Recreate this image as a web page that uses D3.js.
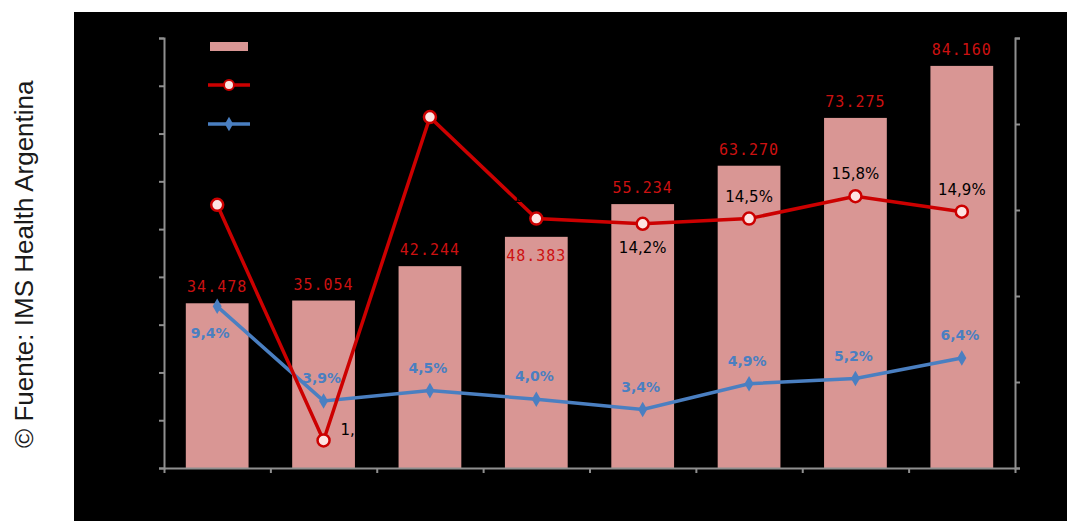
<!DOCTYPE html>
<html><head><meta charset="utf-8">
<script src="https://cdn.jsdelivr.net/npm/d3@7"></script>
<style>body{margin:0;background:#fff;overflow:hidden}</style>
</head><body>
<svg id="c" width="1067" height="521"></svg>
<script>
// ---- data ----
const categories = ["1","2","3","4","5","6","7","8"];
const barValues  = [34478, 35054, 42244, 48383, 55234, 63270, 73275, 84160];
const redValues  = [15.3, 1.6, 20.4, 14.5, 14.2, 14.5, 15.8, 14.9];
const blueValues = [9.4, 3.9, 4.5, 4.0, 3.4, 4.9, 5.2, 6.4];
const leftTicks  = [0,10000,20000,30000,40000,50000,60000,70000,80000,90000];
const rightTicks = [0,5,10,15,20,25];
const sourceText = "© Fuente: IMS Health Argentina";
// label placement keywords
const barLabelPos  = ["above","above","above","inside","above","above","above","above"];
const redLabelPos  = ["above","right","above","above","below","above","above","above"];
const blueLabelPos = ["below","above","above","above","above","above","above","above"];

const loc = d3.formatLocale({decimal:",", thousands:".", grouping:[3], currency:["$",""]});
const fmtInt = loc.format(",d");
const fmtPct = v => loc.format(".1f")(v) + "%";

const svg = d3.select("#c");
// black panel
svg.append("rect").attr("x",74).attr("y",12).attr("width",1067-74).attr("height",521-12).attr("fill","#000");

// source text
svg.append("text").attr("transform","translate(33,448) rotate(-90)")
  .attr("font-family","Liberation Sans, Arial, sans-serif").attr("font-size",26)
  .attr("fill","#1a1a1a").text(sourceText);

const x = d3.scaleBand().domain(categories).range([164,1015]).paddingInner(0.41).paddingOuter(0.205);
const yL = d3.scaleLinear().domain([0,90000]).range([468,38]);
const yR = d3.scaleLinear().domain([0,25]).range([468,38]);
const xb = d3.scaleLinear().domain([0,categories.length]).range([164,1015]);

const axisColor = "#8f8f8f";
function styleAxis(g){
  g.selectAll("path,line").attr("stroke",axisColor).attr("stroke-width",2);
  g.selectAll("text").remove();
}

// bars
svg.append("g").selectAll("rect").data(barValues).join("rect")
  .attr("x",(d,i)=>x(categories[i])).attr("width",x.bandwidth())
  .attr("y",d=>yL(d)).attr("height",d=>yL(0)-yL(d))
  .attr("fill","#d99694");

// axes
svg.append("g").attr("transform","translate(164,0)")
  .call(d3.axisLeft(yL).tickValues(leftTicks).tickSize(5).tickFormat("")).call(styleAxis);
svg.append("g").attr("transform","translate(1015,0)")
  .call(d3.axisRight(yR).tickValues(rightTicks).tickSize(5).tickFormat("")).call(styleAxis);
svg.append("g").attr("transform","translate(0,468)")
  .call(d3.axisBottom(xb).ticks(categories.length).tickSize(5).tickSizeOuter(0).tickFormat("")).call(styleAxis);

// bar labels
svg.append("g").selectAll("text").data(barValues).join("text")
  .attr("x",(d,i)=>x(categories[i])+x.bandwidth()/2)
  .attr("y",(d,i)=>barLabelPos[i]==="inside" ? yL(d)+24 : yL(d)-11)
  .attr("text-anchor","middle")
  .attr("font-family","DejaVu Sans Mono, monospace").attr("font-size",15)
  .attr("letter-spacing","1px")
  .attr("fill","#cc1111").text(d=>fmtInt(d));

const cx = i => x(categories[i]) + x.bandwidth()/2;

// blue line
const blueColor = "#4a7fc1";
svg.append("path").datum(blueValues)
  .attr("d", d3.line().x((d,i)=>cx(i)).y(d=>yR(d)))
  .attr("fill","none").attr("stroke",blueColor).attr("stroke-width",3.5);
svg.append("g").selectAll("path").data(blueValues).join("path")
  .attr("transform",(d,i)=>`translate(${cx(i)},${yR(d)})`)
  .attr("d", d3.symbol(d3.symbolDiamond, 70))
  .attr("fill",blueColor);

// red line
const redColor = "#cc0000";
svg.append("path").datum(redValues)
  .attr("d", d3.line().x((d,i)=>cx(i)).y(d=>yR(d)))
  .attr("fill","none").attr("stroke",redColor).attr("stroke-width",3.5);
svg.append("g").selectAll("circle").data(redValues).join("circle")
  .attr("cx",(d,i)=>cx(i)).attr("cy",d=>yR(d)).attr("r",6)
  .attr("fill","#fde4e2").attr("stroke",redColor).attr("stroke-width",2.5);

// red labels (black text: only readable where it sits over a bar)
svg.append("g").selectAll("text").data(redValues).join("text")
  .attr("x",(d,i)=> redLabelPos[i]==="right" ? cx(i)+17 : cx(i))
  .attr("y",(d,i)=> {
    const p = redLabelPos[i];
    if (p==="below") return yR(d)+29;
    if (p==="right") return yR(d)-5;
    return yR(d)-17;
  })
  .attr("text-anchor",(d,i)=> redLabelPos[i]==="right" ? "start" : "middle")
  .attr("font-family","DejaVu Sans, sans-serif").attr("font-size",15)
  .attr("fill","#000").text(d=>fmtPct(d));

// blue labels
svg.append("g").selectAll("text").data(blueValues).join("text")
  .attr("x",(d,i)=> blueLabelPos[i]==="below" ? cx(i)-7 : cx(i)-2)
  .attr("y",(d,i)=> blueLabelPos[i]==="below" ? yR(d)+32 : yR(d)-18)
  .attr("text-anchor","middle")
  .attr("font-family","DejaVu Sans, sans-serif").attr("font-size",14).attr("font-weight","bold")
  .attr("fill",blueColor).text(d=>fmtPct(d));

// legend (symbols only; legend text is black on black in the reference)
const lg = svg.append("g");
lg.append("rect").attr("x",210).attr("y",42).attr("width",38).attr("height",9).attr("fill","#d99694");
lg.append("line").attr("x1",208).attr("x2",250).attr("y1",85).attr("y2",85).attr("stroke",redColor).attr("stroke-width",3.5);
lg.append("circle").attr("cx",229).attr("cy",85).attr("r",5).attr("fill","#fde4e2").attr("stroke",redColor).attr("stroke-width",2);
lg.append("line").attr("x1",208).attr("x2",250).attr("y1",124).attr("y2",124).attr("stroke",blueColor).attr("stroke-width",3.5);
lg.append("path").attr("transform","translate(229,124)").attr("d",d3.symbol(d3.symbolDiamond,60)).attr("fill",blueColor);
</script>
</body></html>
